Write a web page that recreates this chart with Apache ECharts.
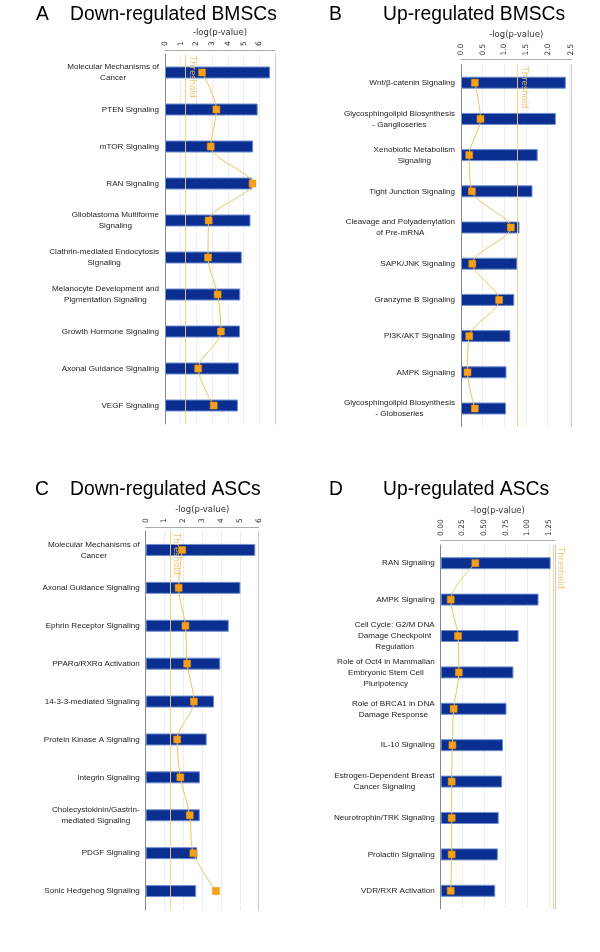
<!DOCTYPE html>
<html>
<head>
<meta charset="utf-8">
<script src="https://cdn.jsdelivr.net/npm/echarts@6/dist/echarts.min.js"></script>
<style>html,body{margin:0;padding:0;background:#fff}#c{width:600px;height:952px}</style>
</head>
<body>
<div id="c"></div>
<script>
// Panel A: Down-regulated BMSCs
var catsA = ["Molecular Mechanisms of\nCancer", "PTEN Signaling", "mTOR Signaling", "RAN Signaling", "Glioblastoma Multiforme\nSignaling", "Clathrin-mediated Endocytosis\nSignaling", "Melanocyte Development and\nPigmentation Signaling", "Growth Hormone Signaling", "Axonal Guidance Signaling", "VEGF Signaling"];
var barsA = [6.69, 5.9, 5.61, 5.55, 5.44, 4.89, 4.79, 4.77, 4.70, 4.64];
var ratioA = [2.36, 3.27, 2.91, 5.57, 2.78, 2.74, 3.35, 3.56, 2.11, 3.10];
// Panel B: Up-regulated BMSCs
var catsB = ["Wnt/β-catenin Signaling", "Glycosphingolipid Biosynthesis\n- Ganglioseries", "Xenobiotic Metabolism\nSignaling", "Tight Junction Signaling", "Cleavage and Polyadenylation\nof Pre-mRNA", "SAPK/JNK Signaling", "Granzyme B Signaling", "PI3K/AKT Signaling", "AMPK Signaling", "Glycosphingolipid Biosynthesis\n- Globoseries"];
var barsB = [2.42, 2.19, 1.77, 1.65, 1.35, 1.30, 1.23, 1.14, 1.05, 1.04];
var ratioB = [0.32, 0.45, 0.19, 0.25, 1.15, 0.26, 0.88, 0.19, 0.15, 0.32];
// Panel C: Down-regulated ASCs
var catsC = ["Molecular Mechanisms of\nCancer", "Axonal Guidance Signaling", "Ephrin Receptor Signaling", "PPARα/RXRα Activation", "14-3-3-mediated Signaling", "Protein Kinase A Signaling", "Integrin Signaling", "Cholecystokinin/Gastrin-\nmediated Signaling", "PDGF Signaling", "Sonic Hedgehog Signaling"];
var barsC = [5.82, 5.03, 4.41, 3.96, 3.63, 3.24, 2.88, 2.87, 2.74, 2.68];
var ratioC = [1.94, 1.75, 2.11, 2.20, 2.56, 1.67, 1.84, 2.34, 2.53, 3.73];
// Panel D: Up-regulated ASCs
var catsD = ["RAN Signaling", "AMPK Signaling", "Cell Cycle: G2/M DNA\nDamage Checkpoint\nRegulation", "Role of Oct4 in Mammalian\nEmbryonic Stem Cell\nPluripotency", "Role of BRCA1 in DNA\nDamage Response", "IL-10 Signaling", "Estrogen-Dependent Breast\nCancer Signaling", "Neurotrophin/TRK Signaling", "Prolactin Signaling", "VDR/RXR Activation"];
var barsD = [1.27, 1.13, 0.90, 0.84, 0.76, 0.72, 0.71, 0.67, 0.66, 0.63];
var ratioD = [0.40, 0.116, 0.20, 0.21, 0.15, 0.135, 0.127, 0.127, 0.127, 0.116];
var threshold = 1.3;
var axisName = "-log(p-value)";

var panels = [
  {cats: catsA, bars: barsA, ratio: ratioA, max: 7, interval: 1, dec: 0, grid: {left: 165, width: 110, top: 54, height: 370}, off: 4, hideMax: true, gap: 13},
  {cats: catsB, bars: barsB, ratio: ratioB, max: 2.55, interval: 0.5, dec: 1, grid: {left: 461, width: 110.5, top: 64.6, height: 362}, off: 5, hideMax: false, gap: 17},
  {cats: catsC, bars: barsC, ratio: ratioC, max: 6, interval: 1, dec: 0, grid: {left: 145.7, width: 113, top: 531, height: 379}, off: 4, hideMax: false, gap: 13},
  {cats: catsD, bars: barsD, ratio: ratioD, max: 1.32, interval: 0.25, dec: 2, grid: {left: 440.7, width: 114.3, top: 545, height: 364}, off: 5, hideMax: true, gap: 17}
];

var FONT = "DejaVu Sans";
var CATFONT = "Liberation Sans";
var grids = [], xAxes = [], yAxes = [], series = [];
panels.forEach(function (p, i) {
  grids.push(p.grid);
  xAxes.push({
    type: 'value', gridIndex: i, position: 'top', min: 0, max: p.max, interval: p.interval,
    offset: p.off,
    name: axisName, nameLocation: 'middle', nameGap: p.gap,
    nameTextStyle: {fontFamily: FONT, fontSize: 8.5, color: '#333'},
    axisLine: {show: true, lineStyle: {color: '#aaa', width: 1}},
    axisTick: {show: false},
    axisLabel: {rotate: -90, margin: 4, fontFamily: FONT, fontSize: 7.5, color: '#333', showMaxLabel: !p.hideMax,
      formatter: function (v) { return v.toFixed(p.dec); }},
    splitLine: {show: true, lineStyle: {color: '#dcdcdc', type: 'dotted', width: 1}}
  });
  yAxes.push({
    type: 'category', gridIndex: i, data: p.cats, inverse: true, position: 'left',
    axisLine: {show: true, lineStyle: {color: '#888', width: 1}},
    axisTick: {show: false},
    axisLabel: {margin: 6, fontFamily: CATFONT, fontSize: 8.1, color: '#222', lineHeight: 11,
      formatter: function (v) { return v.split('\n').map(function (l) { return '{c|' + l + '}'; }).join('\n'); },
      rich: {c: {align: 'center', fontFamily: CATFONT, fontSize: 8.1, color: '#222', lineHeight: 11}}}
  });
  yAxes.push({
    type: 'category', gridIndex: i, data: p.cats, inverse: true, position: 'right',
    axisLine: {show: true, lineStyle: {color: '#c8c8c8', width: 1}},
    axisTick: {show: false}, axisLabel: {show: false}, splitLine: {show: false}
  });
  series.push({
    type: 'bar', xAxisIndex: i, yAxisIndex: 2 * i, data: p.bars, barWidth: 12,
    itemStyle: {color: '#0b2f91', borderColor: '#6f8fd2', borderWidth: 1},
    z: 2,
    markLine: {
      silent: true, symbol: 'none', z: 5,
      lineStyle: {color: '#f3cf7a', width: 1, type: 'solid', opacity: 0.9},
      label: {show: true, formatter: 'Threshold', position: 'insideStartTop', color: '#f0c060',
        fontFamily: FONT, fontSize: 8.5, distance: 2},
      data: [{xAxis: threshold}]
    }
  });
  series.push({
    type: 'line', xAxisIndex: i, yAxisIndex: 2 * i, data: p.ratio, smooth: 0.3,
    symbol: 'rect', symbolSize: 7, z: 6,
    lineStyle: {color: '#f2c25e', width: 1},
    itemStyle: {color: '#f7a11a', borderColor: '#e48e0a', borderWidth: 0.5}
  });
});

var titleStyle = {fontFamily: 'Liberation Sans', fontSize: 19.3, fontWeight: 'normal', color: '#000'};
function T(text, left, top) { return {text: text, left: left, top: top, padding: 0, textStyle: titleStyle}; }
var titles = [
  T('A', 36, 5), T('Down-regulated BMSCs', 70, 5),
  T('B', 329, 5), T('Up-regulated BMSCs', 383, 5),
  T('C', 35, 480), T('Down-regulated ASCs', 70, 480),
  T('D', 329, 480), T('Up-regulated ASCs', 383, 480)
];

var chart = echarts.init(document.getElementById('c'), null, {renderer: 'canvas'});
chart.setOption({
  animation: false,
  backgroundColor: '#fff',
  title: titles,
  grid: grids,
  xAxis: xAxes,
  yAxis: yAxes,
  series: series
});
</script>
</body>
</html>
